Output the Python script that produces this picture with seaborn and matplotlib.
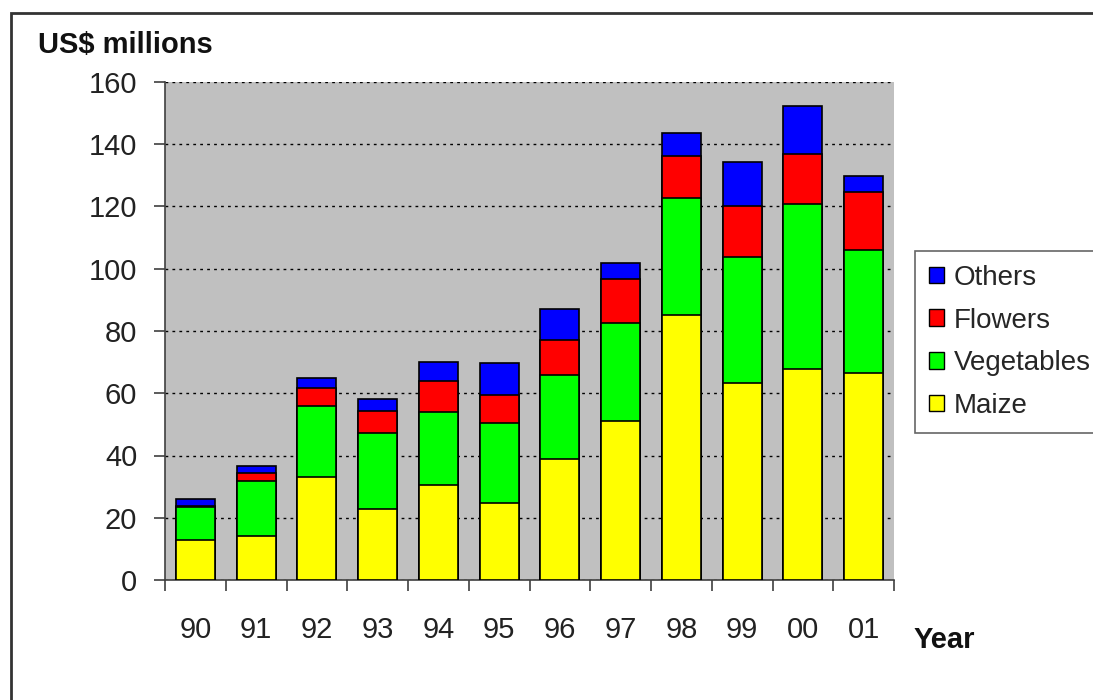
import numpy as np
import pandas as pd
import matplotlib
matplotlib.use('Agg')
import matplotlib.pyplot as plt
import seaborn as sns
from matplotlib.patches import Rectangle, Patch

years = ['90', '91', '92', '93', '94', '95', '96', '97', '98', '99', '00', '01']
maize = [12.9, 14.1, 33.2, 22.9, 30.5, 24.6, 39.0, 51.1, 85.1, 63.2, 67.7, 66.4]
vegetables = [10.6, 17.8, 22.8, 24.4, 23.6, 25.8, 26.8, 31.4, 37.7, 40.5, 53.0, 39.6]
flowers = [0.4, 2.4, 5.8, 7.1, 9.8, 8.9, 11.4, 14.1, 13.4, 16.5, 16.1, 18.5]
others = [2.0, 2.3, 3.2, 3.9, 6.1, 10.5, 9.9, 5.4, 7.3, 14.2, 15.6, 5.4]

series = ['Maize', 'Vegetables', 'Flowers', 'Others']
colors = {'Maize': '#FFFF00', 'Vegetables': '#00FF00', 'Flowers': '#FF0000', 'Others': '#0000FF'}

df = pd.DataFrame({'Year': years, 'Maize': maize, 'Vegetables': vegetables,
                   'Flowers': flowers, 'Others': others})
cum = df[series].cumsum(axis=1)
cum['Year'] = df['Year']

sns.set_style('white')
plt.rcParams['font.family'] = ['Liberation Sans', 'DejaVu Sans']

fig = plt.figure(figsize=(10.93, 7), dpi=100)
ax = fig.add_axes([165 / 1093, 120 / 700, 729 / 1093, 498 / 700])
ax.set_facecolor('#C0C0C0')

# stacked bars: draw cumulative totals from the top series down
for s in reversed(series):
    sns.barplot(data=cum, x='Year', y=s, color=colors[s], width=0.64,
                edgecolor='black', linewidth=1.2, saturation=1, ax=ax, zorder=3)

ax.set_ylim(0, 160)
ax.set_xlim(-0.5, len(years) - 0.5)
ax.set_yticks(range(0, 161, 20))
ax.yaxis.grid(True, linestyle=(0, (2, 3)), color='black', linewidth=1.0, zorder=1)
ax.set_axisbelow(True)

for side in ['top', 'right']:
    ax.spines[side].set_visible(False)
for side in ['left', 'bottom']:
    ax.spines[side].set_color('#404040')
    ax.spines[side].set_linewidth(1.2)

ax.tick_params(axis='y', length=8, width=1.2, color='#404040', labelsize=21, pad=12,
               left=True, labelcolor='#222222')
ax.tick_params(axis='x', length=0, labelsize=21, pad=26, labelcolor='#222222')
ax.set_xticks(np.arange(-0.5, len(years), 1.0), minor=True)
ax.tick_params(axis='x', which='minor', length=8, width=1.2, color='#404040', bottom=True)

ax.set_xlabel('')
ax.set_ylabel('')

fig.text(38 / 1093, 1 - 45 / 700, 'US$ millions', fontsize=21, fontweight='bold',
         ha='left', va='center', color='#111111')
fig.text(914 / 1093, 1 - 640 / 700, 'Year', fontsize=21, fontweight='bold',
         ha='left', va='center', color='#111111')

handles = [Patch(facecolor=colors[s], edgecolor='black', linewidth=1.0, label=s)
           for s in reversed(series)]
leg = fig.legend(handles=handles, loc='upper left', bbox_to_anchor=(915 / 1093, 1 - 251 / 700),
                 fontsize=20, frameon=True, fancybox=False, handlelength=0.55,
                 handleheight=0.55, handletextpad=0.35, labelspacing=0.6,
                 borderpad=0.5, borderaxespad=0)
leg.get_frame().set_edgecolor('#404040')
leg.get_frame().set_linewidth(1.2)

fig.patches.append(Rectangle((11 / 1093, -0.05), 1.1, 1 - 13 / 700 + 0.05,
                             transform=fig.transFigure, fill=False,
                             edgecolor='#333333', linewidth=2))

fig.savefig('out.png', dpi=100)
